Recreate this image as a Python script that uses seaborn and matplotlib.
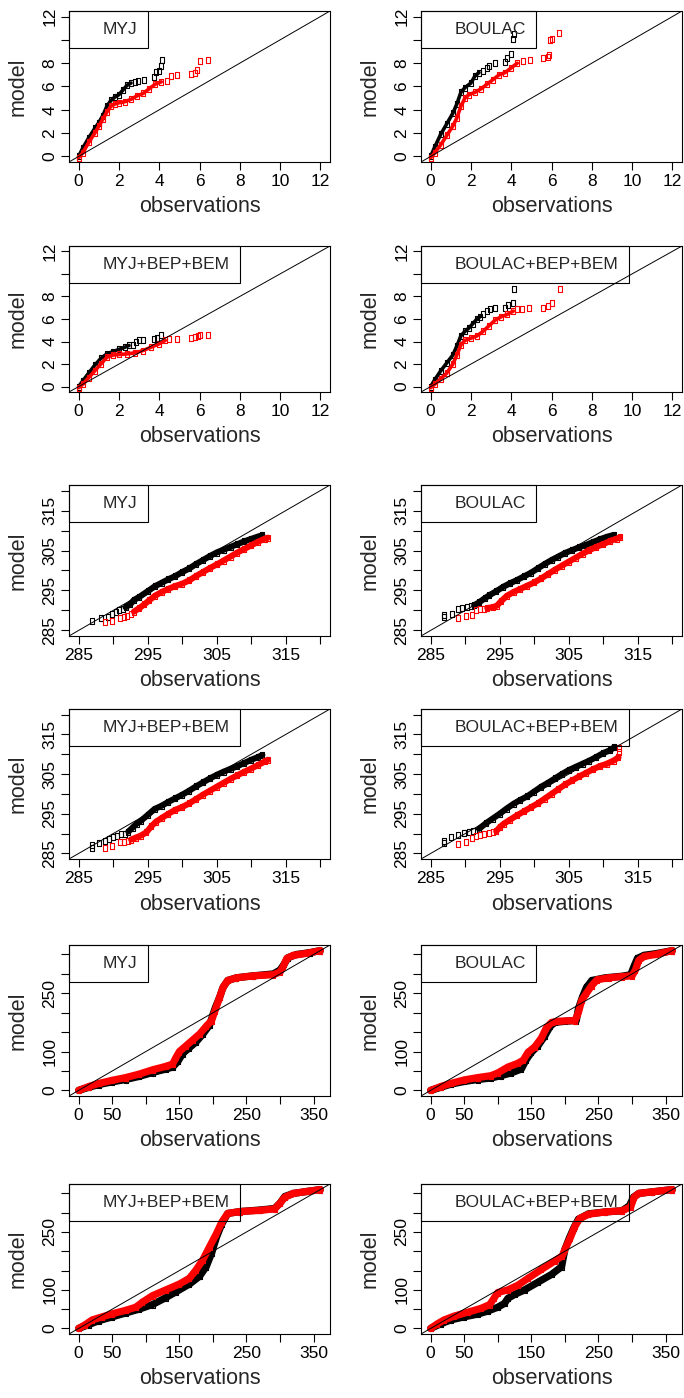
import numpy as np
import pandas as pd
import matplotlib
matplotlib.use("Agg")
import matplotlib.pyplot as plt
import seaborn as sns
from matplotlib.patches import Rectangle

# ---- axis ranges (R pads each side by 4%) and ticks ----
ws_range = [0, 12]
t2_range = [285, 320]
wd_range = [0, 360]

ws_ticks = [0, 2, 4, 6, 8, 10, 12]
ws_xlabels = ['0', '2', '4', '6', '8', '10', '12']
ws_ylabels = ['0', '2', '4', '6', '8', '', '12']
t2_ticks = [285, 290, 295, 300, 305, 310, 315, 320]
t2_labels = ['285', '', '295', '', '305', '', '315', '']
wd_ticks = [0, 50, 100, 150, 200, 250, 300, 350]
wd_xlabels = ['0', '50', '', '150', '', '250', '', '350']
wd_ylabels = ['0', '', '100', '', '', '250', '', '']

schemes = ['MYJ', 'BOULAC', 'MYJ+BEP+BEM', 'BOULAC+BEP+BEM']

# ---- quantile pairs (observation, model), read off the figure ----
# wind speed
ws_myj_k = [(0, 0), (0.2, 0.7), (0.5, 1.6), (0.8, 2.4), (1.0, 2.9), (1.2, 3.5), (1.4, 4.3),
            (1.6, 4.8), (1.8, 5.1), (2.0, 5.3), (2.2, 5.7), (2.4, 6.1), (2.6, 6.3)]
ws_myj_k_tail = [(2.8, 6.4), (2.95, 6.5), (3.25, 6.55), (3.75, 6.85), (3.85, 7.25),
                 (4.0, 7.35), (4.1, 7.8), (4.15, 8.25)]
ws_myj_r = [(0, -0.1), (0.2, 0.3), (0.5, 1.2), (0.8, 2.0), (1.0, 2.6), (1.2, 3.2), (1.4, 3.8),
            (1.6, 4.3), (1.8, 4.5), (2.0, 4.6), (2.3, 4.7), (2.6, 4.9), (2.9, 5.2), (3.2, 5.4),
            (3.5, 5.8), (3.8, 6.2), (4.1, 6.4)]
ws_myj_r_tail = [(4.4, 6.5), (4.6, 6.9), (4.9, 6.95), (5.6, 7.1), (5.8, 7.2), (5.9, 7.45),
                 (6.0, 8.15), (6.4, 8.25)]

ws_boulac_k = [(0, 0), (0.2, 0.8), (0.5, 1.9), (0.8, 2.8), (1.1, 3.7), (1.3, 4.5), (1.5, 5.5),
               (1.7, 5.9), (2.0, 6.3), (2.2, 6.9), (2.4, 7.2)]
ws_boulac_k_tail = [(2.6, 7.35), (2.8, 7.55), (2.9, 7.8), (3.2, 8.05), (3.7, 8.1), (3.8, 8.45),
                    (4.0, 8.8), (4.1, 10.1), (4.15, 10.5)]
ws_boulac_r = [(0, -0.1), (0.2, 0.3), (0.5, 1.0), (0.8, 1.8), (1.1, 2.6), (1.3, 3.3), (1.5, 4.3),
               (1.7, 5.0), (1.9, 5.3), (2.2, 5.5), (2.5, 5.8), (2.8, 6.2), (3.1, 6.6), (3.4, 7.0),
               (3.7, 7.2), (4.0, 7.6), (4.3, 8.0)]
ws_boulac_r_tail = [(4.6, 8.2), (4.95, 8.3), (5.6, 8.45), (5.85, 8.55), (5.9, 8.7),
                    (5.95, 10.0), (6.0, 10.1), (6.35, 10.55)]

ws_myjbep_k = [(0, 0), (0.2, 0.5), (0.5, 1.2), (0.8, 1.9), (1.1, 2.5), (1.4, 2.9), (1.7, 3.1),
               (2.0, 3.3), (2.3, 3.5), (2.5, 3.65)]
ws_myjbep_k_tail = [(2.7, 3.7), (2.85, 4.0), (3.0, 4.1), (3.2, 4.1), (3.75, 4.2), (3.9, 4.35),
                    (4.1, 4.6)]
ws_myjbep_r = [(0, -0.1), (0.2, 0.2), (0.5, 0.8), (0.8, 1.4), (1.1, 2.0), (1.4, 2.6), (1.7, 2.8),
               (2.0, 2.85), (2.4, 2.9), (2.8, 3.0), (3.2, 3.2), (3.6, 3.5), (4.0, 3.8), (4.3, 4.1)]
ws_myjbep_r_tail = [(4.5, 4.2), (4.9, 4.25), (5.6, 4.3), (5.8, 4.4), (5.95, 4.5), (6.0, 4.55),
                    (6.4, 4.6)]

ws_boulacbep_k = [(0, 0), (0.2, 0.6), (0.5, 1.4), (0.8, 2.1), (1.1, 2.8), (1.3, 3.6), (1.5, 4.5),
                  (1.7, 4.9), (1.9, 5.2), (2.1, 5.6), (2.3, 6.0), (2.45, 6.2)]
ws_boulacbep_k_tail = [(2.6, 6.45), (2.8, 6.7), (2.95, 6.85), (3.2, 6.95), (3.7, 7.0),
                       (3.85, 7.2), (4.1, 7.45), (4.15, 8.65)]
ws_boulacbep_r = [(0, -0.1), (0.2, 0.2), (0.5, 0.7), (0.8, 1.2), (1.1, 2.0), (1.3, 2.8),
                  (1.5, 3.7), (1.7, 4.1), (2.0, 4.3), (2.3, 4.5), (2.6, 4.9), (2.9, 5.4),
                  (3.2, 5.9), (3.5, 6.2), (3.8, 6.4), (4.1, 6.7)]
ws_boulacbep_r_tail = [(4.3, 6.85), (4.55, 6.9), (4.9, 6.95), (5.6, 7.0), (5.85, 7.15),
                       (6.0, 7.45), (6.4, 8.65)]

# temperature
t2_myj_k = [(291.8, 290.8), (292.5, 291.6), (293.0, 292.6), (293.8, 293.4), (295, 294.8),
            (296, 296.0), (297, 296.9), (298, 297.8), (299, 298.6), (300, 299.6), (301, 300.5),
            (302, 301.6), (303, 302.6), (304, 303.6), (305, 304.5), (306, 305.2), (307, 305.9),
            (308, 306.6), (309, 307.3), (310, 307.9), (311, 308.5), (311.6, 308.8)]
t2_myj_k_tail = [(287.0, 287.4), (288.2, 288.0), (289.3, 288.4), (289.8, 289.0), (290.4, 289.6),
                 (290.9, 290.0), (291.4, 290.4)]
t2_myj_r = [(293.0, 289.7), (293.8, 290.6), (294.5, 291.5), (295.2, 292.5), (296, 293.6),
            (297, 294.6), (298, 295.4), (299, 296.1), (300, 296.7), (301, 297.5), (302, 298.6),
            (303, 299.6), (304, 300.6), (305, 301.5), (306, 302.5), (307, 303.5), (308, 304.5),
            (309, 305.4), (310, 306.3), (311, 307.2), (312, 308.0), (312.4, 308.2)]
t2_myj_r_tail = [(288.8, 287.1), (289.9, 287.3), (291.0, 288.2), (291.6, 288.3), (292.0, 288.5),
                 (292.6, 289.2)]

t2_boulac_k = [(291.3, 291.3), (292, 292.0), (292.8, 293.0), (293.5, 293.8), (294.5, 294.8),
               (295.5, 295.9), (296.5, 296.8), (297.5, 297.6), (298.5, 298.5), (299.5, 299.4),
               (300.5, 300.5), (301.5, 301.6), (302.5, 302.6), (303.5, 303.5), (304.5, 304.4),
               (305.5, 305.1), (306.5, 305.8), (307.5, 306.4), (308.5, 307.1), (309.5, 307.8),
               (310.5, 308.4), (311.5, 308.9)]
t2_boulac_k_tail = [(286.9, 288.4), (286.9, 288.9), (288.1, 289.0), (289.0, 290.3),
                    (289.6, 290.6), (290.3, 290.8), (290.8, 291.0)]
t2_boulac_r = [(293.2, 290.6), (294, 290.8), (294.6, 291.2), (295.2, 292.3), (296, 293.6),
               (297, 294.6), (298, 295.4), (299, 296.2), (300, 297.0), (301, 298.0), (302, 299.1),
               (303, 300.2), (304, 301.2), (305, 302.2), (306, 303.2), (307, 304.2), (308, 305.1),
               (309, 305.9), (310, 306.6), (311, 307.4), (312, 308.0), (312.4, 308.3)]
t2_boulac_r_tail = [(288.9, 288.2), (290.1, 288.7), (291.0, 288.9), (291.6, 290.0),
                    (292.2, 290.3), (292.7, 290.4)]

t2_myjbep_k = [(292.2, 290.5), (292.8, 291.5), (293.4, 292.5), (294, 293.2), (295, 294.7),
               (296, 296.2), (297, 297.0), (298, 298.0), (299, 298.9), (300, 299.8), (301, 300.8),
               (302, 301.9), (303, 302.9), (304, 303.9), (305, 304.8), (306, 305.6), (307, 306.3),
               (308, 307.0), (309, 307.8), (310, 308.6), (311, 309.3), (311.6, 309.8)]
t2_myjbep_k_tail = [(286.9, 286.3), (286.9, 287.1), (287.9, 287.6), (288.8, 288.1),
                    (289.4, 288.7), (290.0, 289.2), (290.6, 289.5), (291.2, 289.8), (291.7, 290.0)]
t2_myjbep_r = [(292.6, 288.5), (293.3, 289.0), (294, 289.5), (294.8, 290.3), (295.5, 291.8),
               (296.2, 293.0), (297, 293.9), (298, 295.0), (299, 296.0), (300, 296.7),
               (301, 297.6), (302, 298.7), (303, 299.8), (304, 300.8), (305, 301.8), (306, 302.8),
               (307, 303.8), (308, 304.7), (309, 305.6), (310, 306.4), (311, 307.3), (312, 308.2),
               (312.4, 308.6)]
t2_myjbep_r_tail = [(288.8, 286.3), (289.9, 286.8), (291.0, 287.8), (291.6, 288.0),
                    (292.1, 288.2)]

t2_boulacbep_k = [(292.0, 291.2), (293, 292.6), (294, 293.8), (295, 295.0), (296, 296.3),
                  (297, 297.5), (298, 298.5), (299, 299.4), (300, 300.6), (301, 301.8),
                  (302, 302.8), (303, 303.9), (304, 305.0), (305, 306.0), (306, 306.8),
                  (307, 307.6), (308, 308.4), (309, 309.3), (310, 310.3), (311, 311.0),
                  (311.6, 311.8)]
t2_boulacbep_k_tail = [(286.9, 287.6), (286.9, 288.2), (288.0, 289.1), (289.0, 289.7),
                       (289.8, 290.2), (290.5, 290.4), (291.2, 290.6)]
t2_boulacbep_r = [(294.5, 290.6), (295, 291.6), (295.6, 292.5), (296.5, 293.5), (297.5, 294.6),
                  (298.5, 295.6), (299.5, 296.6), (300.5, 297.6), (301.5, 298.8), (302.5, 300.0),
                  (303.5, 301.2), (304.5, 302.4), (305.5, 303.4), (306.5, 304.4), (307.5, 305.3),
                  (308.5, 306.2), (309.5, 307.0), (310.5, 307.6), (311.5, 308.4), (312.2, 309.2)]
t2_boulacbep_r_tail = [(288.9, 287.4), (290.1, 287.8), (291.0, 289.0), (291.5, 289.3),
                       (292.1, 289.7), (292.7, 289.9), (293.4, 290.1), (294.0, 290.3),
                       (312.3, 310.5), (312.3, 311.6)]

# wind direction
wd_myj_k = [(0, 0), (15, 8), (30, 15), (50, 22), (70, 28), (90, 36), (110, 46), (130, 55),
            (140, 60), (148, 75), (155, 95), (165, 110), (175, 125), (185, 145), (195, 168),
            (200, 195), (204, 215), (210, 240), (215, 265), (222, 283), (235, 290), (260, 295),
            (290, 300), (300, 310), (306, 325), (312, 342), (325, 350), (345, 355), (360, 360)]
wd_myj_r = [(0, 0), (15, 10), (30, 18), (50, 26), (70, 33), (90, 42), (110, 53), (130, 62),
            (140, 68), (145, 85), (150, 100), (160, 115), (170, 130), (180, 145), (190, 165),
            (198, 180), (203, 205), (210, 240), (215, 265), (222, 283), (235, 290), (260, 295),
            (290, 298), (300, 305), (305, 320), (310, 340), (320, 348), (340, 353), (360, 360)]

wd_boulac_k = [(0, 0), (15, 8), (30, 16), (50, 23), (70, 28), (90, 32), (105, 38), (120, 45),
               (135, 55), (142, 78), (150, 98), (160, 115), (170, 140), (178, 165), (185, 175),
               (200, 178), (217, 180), (220, 210), (226, 240), (232, 265), (240, 283),
               (260, 290), (285, 294), (298, 298), (303, 320), (308, 340), (318, 348),
               (335, 352), (360, 360)]
wd_boulac_r = [(0, 0), (15, 10), (30, 18), (50, 27), (70, 33), (90, 38), (100, 45), (115, 60),
               (130, 70), (138, 78), (145, 98), (155, 112), (165, 135), (172, 160), (180, 175),
               (190, 178), (215, 180), (220, 200), (225, 232), (232, 250), (240, 270),
               (248, 285), (265, 290), (285, 293), (300, 295), (305, 310), (310, 335),
               (318, 345), (335, 350), (360, 360)]

wd_myjbep_k = [(0, 0), (15, 10), (30, 20), (50, 30), (70, 40), (90, 50), (110, 62), (130, 80),
               (145, 95), (165, 115), (180, 135), (190, 160), (198, 195), (205, 235),
               (213, 270), (222, 298), (240, 303), (270, 307), (292, 311), (300, 325),
               (307, 342), (320, 350), (340, 355), (360, 360)]
wd_myjbep_r = [(0, 0), (10, 10), (20, 22), (35, 30), (50, 38), (70, 47), (85, 55), (95, 68),
               (110, 85), (130, 100), (150, 115), (165, 130), (175, 152), (185, 178),
               (195, 212), (205, 245), (213, 275), (222, 298), (240, 303), (270, 306),
               (292, 310), (300, 325), (307, 340), (320, 350), (340, 355), (360, 360)]

wd_boulacbep_k = [(0, 0), (15, 12), (30, 22), (50, 30), (70, 37), (85, 45), (100, 55),
                  (110, 65), (115, 78), (125, 88), (140, 100), (160, 120), (180, 140),
                  (195, 160), (200, 205), (206, 232), (213, 260), (220, 283), (235, 297),
                  (260, 302), (285, 305), (296, 318), (302, 340), (310, 350), (330, 354),
                  (360, 360)]
wd_boulacbep_r = [(0, 0), (10, 12), (20, 22), (35, 32), (55, 42), (75, 52), (88, 62), (95, 80),
                  (100, 93), (115, 100), (130, 112), (145, 130), (165, 153), (185, 175),
                  (196, 188), (200, 205), (208, 235), (215, 265), (222, 285), (235, 296),
                  (260, 302), (285, 305), (298, 315), (303, 340), (310, 350), (330, 354),
                  (360, 360)]

# ---- panel list: (row, col, scheme, variable, black band, black tail, red band, red tail)
panels = [
    (0, 0, schemes[0], 'ws', ws_myj_k, ws_myj_k_tail, ws_myj_r, ws_myj_r_tail),
    (0, 1, schemes[1], 'ws', ws_boulac_k, ws_boulac_k_tail, ws_boulac_r, ws_boulac_r_tail),
    (1, 0, schemes[2], 'ws', ws_myjbep_k, ws_myjbep_k_tail, ws_myjbep_r, ws_myjbep_r_tail),
    (1, 1, schemes[3], 'ws', ws_boulacbep_k, ws_boulacbep_k_tail, ws_boulacbep_r, ws_boulacbep_r_tail),
    (2, 0, schemes[0], 't2', t2_myj_k, t2_myj_k_tail, t2_myj_r, t2_myj_r_tail),
    (2, 1, schemes[1], 't2', t2_boulac_k, t2_boulac_k_tail, t2_boulac_r, t2_boulac_r_tail),
    (3, 0, schemes[2], 't2', t2_myjbep_k, t2_myjbep_k_tail, t2_myjbep_r, t2_myjbep_r_tail),
    (3, 1, schemes[3], 't2', t2_boulacbep_k, t2_boulacbep_k_tail, t2_boulacbep_r, t2_boulacbep_r_tail),
    (4, 0, schemes[0], 'wd', wd_myj_k, [], wd_myj_r, []),
    (4, 1, schemes[1], 'wd', wd_boulac_k, [], wd_boulac_r, []),
    (5, 0, schemes[2], 'wd', wd_myjbep_k, [], wd_myjbep_r, []),
    (5, 1, schemes[3], 'wd', wd_boulacbep_k, [], wd_boulacbep_r, []),
]

axis_cfg = {
    'ws': (ws_range, ws_ticks, ws_xlabels, ws_ylabels, 2.6),
    't2': (t2_range, t2_ticks, t2_labels, t2_labels, 4.4),
    'wd': (wd_range, wd_ticks, wd_xlabels, wd_ylabels, 5.2),
}

# ---- style ----
sns.set_style("white")
plt.rcParams['font.family'] = ['Liberation Sans', 'DejaVu Sans']
plt.rcParams['axes.linewidth'] = 0.8

W, H = 684, 1398
fig = plt.figure(figsize=(W / 100, H / 100), dpi=100)

col_x = [69, 421]
row_y = [(11, 151), (246, 146), (485, 151), (709, 150), (945, 151), (1184, 150)]
ax_w = 261

# tall open square like R's pch=0 in the original image
box_marker = [(-0.7, -1), (0.7, -1), (0.7, 1), (-0.7, 1), (-0.7, -1)]


def draw_series(ax, pts, color, lw, line=True):
    if len(pts) == 0:
        return
    df = pd.DataFrame(pts, columns=['obs', 'mod'])
    sns.lineplot(data=df, x='obs', y='mod', ax=ax, estimator=None, sort=False,
                 color=color, lw=lw if line else 0, linestyle='-' if line else 'none',
                 marker=box_marker, markersize=4.6, markerfacecolor='none',
                 markeredgecolor=color, markeredgewidth=0.8)


label_texts = []
for row, col, name, var, kb, kt, rb, rt in panels:
    top, h = row_y[row]
    ax = fig.add_axes([col_x[col] / W, 1 - (top + h) / H, ax_w / W, h / H])
    rng, ticks, xl, yl, lw = axis_cfg[var]
    pad = 0.04 * (rng[1] - rng[0])
    lims = (rng[0] - pad, rng[1] + pad)

    draw_series(ax, kb, 'black', lw)
    draw_series(ax, kt, 'black', lw, line=False)
    draw_series(ax, rb, 'red', lw)
    draw_series(ax, rt, 'red', lw, line=False)
    ax.axline((rng[0], rng[0]), slope=1, color='black', lw=0.7, zorder=5)

    ax.set_xlim(lims)
    ax.set_ylim(lims)
    ax.set_xticks(ticks)
    ax.set_xticklabels(xl)
    ax.set_yticks(ticks)
    ax.set_yticklabels(yl, rotation=90, va='center')
    ax.tick_params(direction='out', length=5.5, width=0.8, labelsize=12.5, pad=3,
                   bottom=True, left=True, colors='black')
    for s in ax.spines.values():
        s.set_color('black')
        s.set_linewidth(0.8)

    ax.set_xlabel('observations', fontsize=15.5)
    ax.set_ylabel('model', fontsize=15.5)
    ax.xaxis.set_label_coords(0.5, -45 / h)
    ax.xaxis.label.set_va('center')
    ax.yaxis.set_label_coords(-51 / ax_w, 0.5)
    ax.yaxis.label.set_va('center')

    t = ax.text(34 / ax_w, 1 - 18.5 / h, name, transform=ax.transAxes, ha='left',
                va='center', fontsize=12.5, zorder=6)
    label_texts.append((ax, t, h))

# legend-like frame around each label (transparent, as R draws it)
renderer = fig.canvas.get_renderer()
for ax, t, h in label_texts:
    bb = t.get_window_extent(renderer=renderer)
    abb = ax.get_window_extent(renderer=renderer)
    wfrac = (bb.x1 + 10 - abb.x0) / abb.width
    hfrac = 37 / h
    ax.add_patch(Rectangle((0, 1 - hfrac), wfrac, hfrac, transform=ax.transAxes,
                           fill=False, edgecolor='black', lw=0.8, zorder=6, clip_on=False))

fig.savefig('out.png', dpi=100)
